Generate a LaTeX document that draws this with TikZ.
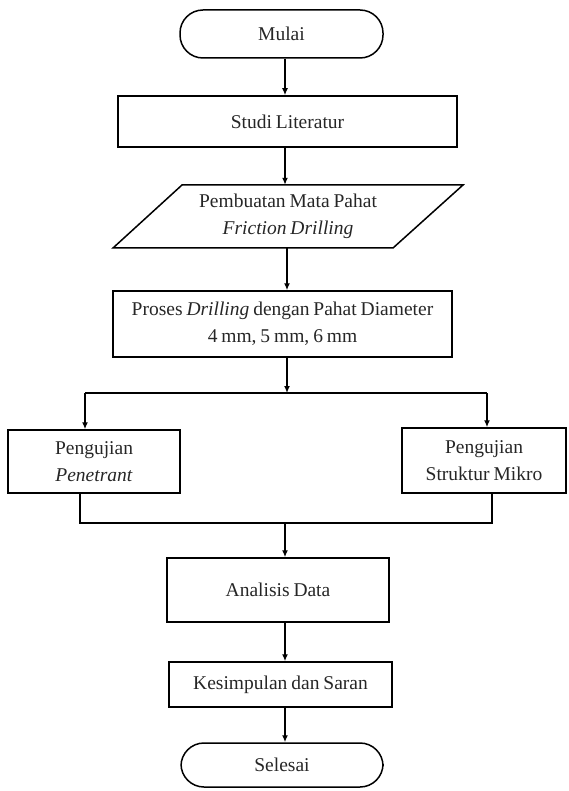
\documentclass[tikz,border=0pt]{standalone}
\usepackage{fontspec}
\setmainfont{Liberation Serif}[WordSpace=0.8]
\usetikzlibrary{arrows.meta}
\begin{document}
\begin{tikzpicture}[x=1pt,y=-1pt,
  txt/.style={font=\fontsize{19.5}{27}\selectfont, align=center, text=black!85},
  box/.style={txt, draw, line width=1.5pt, inner sep=0pt},
  term/.style={box, rounded corners=23pt},
  arr/.style={-{Latex[length=7pt,width=6pt]}, line width=1.5pt},
  ln/.style={line width=1.5pt}]
\useasboundingbox (0,0) rectangle (568,791);

\node[term, minimum width=203pt, minimum height=48pt] (mulai) at (281.5,34) {Mulai};
\node[box, minimum width=339pt, minimum height=51pt] (studi) at (287.5,121.5) {Studi Literatur};
\node[txt, minimum height=63pt, inner sep=0pt] (pembuatan) at (288,216.5) {Pembuatan Mata Pahat\\\textit{Friction Drilling}};
\draw[ln] (113,248) -- (182,185) -- (463,185) -- (393,248) -- cycle;
\node[box, minimum width=339pt, minimum height=66pt] (proses) at (282.5,324) {Proses \textit{Drilling} dengan Pahat Diameter\\4 mm, 5 mm, 6 mm};
\node[box, minimum width=172pt, minimum height=63pt] (pen) at (94,461.5) {Pengujian\\\textit{Penetrant}};
\node[box, minimum width=164pt, minimum height=65pt] (mik) at (484,460.5) {Pengujian\\Struktur Mikro};
\node[box, minimum width=222pt, minimum height=64pt] (anal) at (278,590) {Analisis Data};
\node[box, minimum width=223pt, minimum height=45pt] (kes) at (280.5,684.5) {Kesimpulan dan Saran};
\node[term, minimum width=202pt, minimum height=44pt] (sel) at (282,765) {Selesai};

\coordinate (ax) at (285,0);
\coordinate (split) at (287,393);
\coordinate (bl) at (85,393);
\coordinate (br) at (487,393);
\coordinate (jl) at (80,523);
\coordinate (jr) at (492,523);
\coordinate (jm) at (285,523);

\draw[arr] (mulai.south -| ax) -- (studi.north -| ax);
\draw[arr] (studi.south -| ax) -- (pembuatan.north -| ax);
\draw[arr] (pembuatan.south -| split) -- (proses.north -| split);
\draw[arr] (proses.south -| split) -- (split);
\draw[ln] (bl) -- (br);
\draw[arr] (bl) -- (bl |- pen.north);
\draw[arr] (br) -- (br |- mik.north);
\draw[ln] (pen.south -| jl) -- (jl) -- (jr) -- (mik.south -| jr);
\draw[arr] (jm) -- (anal.north -| jm);
\draw[arr] (anal.south -| ax) -- (kes.north -| ax);
\draw[arr] (kes.south -| ax) -- (sel.north -| ax);
\end{tikzpicture}
\end{document}
